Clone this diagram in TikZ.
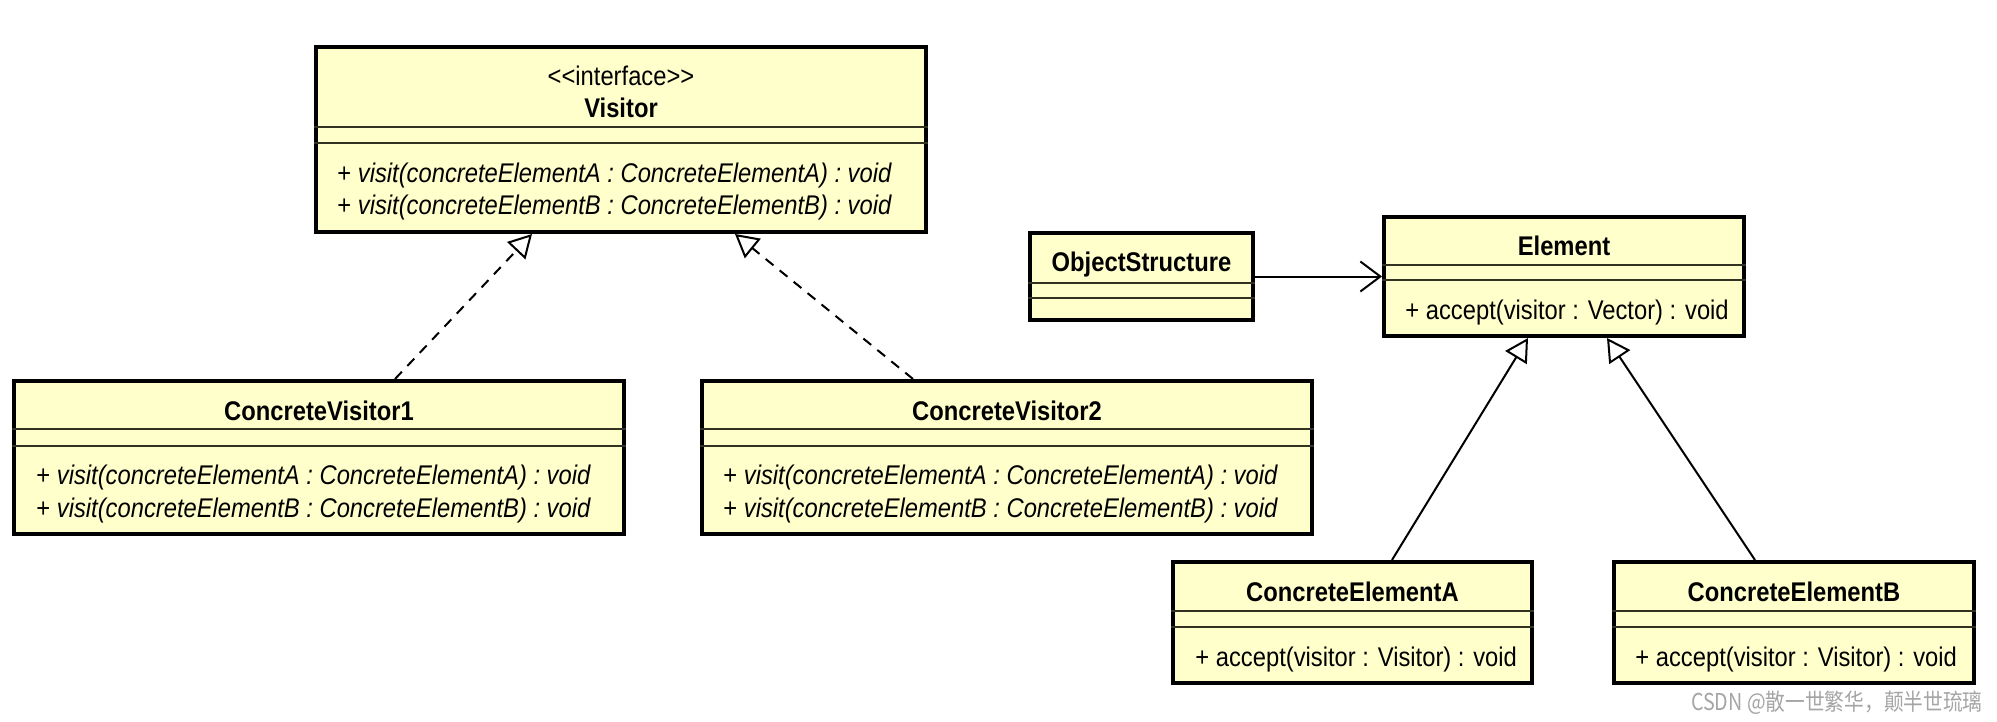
\documentclass[tikz,border=0pt]{standalone}
\usepackage{fontspec}
\setmainfont{Liberation Sans}[FakeStretch=0.88]
\newfontfamily\cjk{Noto Sans CJK SC}[FakeStretch=0.85]
\usetikzlibrary{arrows.meta}
\definecolor{clsfill}{RGB}{255,255,204}
\definecolor{sepcol}{RGB}{50,50,35}
\definecolor{wmgray}{RGB}{165,165,165}
\begin{document}
\begin{tikzpicture}[x=0.5pt,y=-0.5pt,
  cls/.style={draw=black,line width=2pt,fill=clsfill,inner sep=0pt,rectangle},
  txt/.style={inner sep=0pt,font=\fontsize{13.5}{16}\selectfont,text height=10pt,text depth=3.4pt},
  ttl/.style={txt,font=\fontsize{13.5}{16}\selectfont\bfseries},
  mth/.style={txt,anchor=west},
  sepline/.style={draw=sepcol,line width=1pt},
  real/.style={draw=black,line width=1pt,dash pattern=on 5pt off 4pt,-{Triangle[open,length=11.5pt,width=12.5pt]}},
  gen/.style={draw=black,line width=1pt,-{Triangle[open,length=11.5pt,width=12.5pt]}},
  assoc/.style={draw=black,line width=1pt,-{Straight Barb[length=10pt,width=15pt]}},
]
\useasboundingbox (0,0) rectangle (1997,722);

% boxes
\node[cls,minimum width=305pt,minimum height=92.5pt] (visitor) at (621,139.5) {};
\node[cls,minimum width=305pt,minimum height=76.5pt] (cv1) at (319,457.5) {};
\node[cls,minimum width=305pt,minimum height=76.5pt] (cv2) at (1007,457.5) {};
\node[cls,minimum width=111.5pt,minimum height=43.5pt] (os) at (1141.5,276.5) {};
\node[cls,minimum width=180pt,minimum height=59.5pt] (element) at (1564,276.5) {};
\node[cls,minimum width=179.5pt,minimum height=60.5pt] (cea) at (1352.5,622.5) {};
\node[cls,minimum width=180pt,minimum height=60.5pt] (ceb) at (1794,622.5) {};

% separators
\foreach \n/\a/\b in {visitor/127/143, cv1/429/446, cv2/429/446, os/283/298, element/265/280, cea/611/627, ceb/611/627}{
  \draw[sepline] (\n.west |- 0,\a) -- (\n.east |- 0,\a);
  \draw[sepline] (\n.west |- 0,\b) -- (\n.east |- 0,\b);
}

% texts
\node[txt] (vst) at (621,79) {{<}{<}interface{>}{>}};
\node[ttl] (vn) at (621,111) {Visitor};
\node[mth] (vm1) at (337,176) {+ \textit{visit(concreteElementA : ConcreteElementA) : void}};
\node[mth] (vm2) at (337,208) {+ \textit{visit(concreteElementB : ConcreteElementB) : void}};

\node[ttl] (c1n) at (319,414) {ConcreteVisitor1};
\node[mth] (c1m1) at (36,478) {+ \textit{visit(concreteElementA : ConcreteElementA) : void}};
\node[mth] (c1m2) at (36,511) {+ \textit{visit(concreteElementB : ConcreteElementB) : void}};

\node[ttl] (c2n) at (1007,414) {ConcreteVisitor2};
\node[mth] (c2m1) at (723,478) {+ \textit{visit(concreteElementA : ConcreteElementA) : void}};
\node[mth] (c2m2) at (723,511) {+ \textit{visit(concreteElementB : ConcreteElementB) : void}};

\node[ttl] (osn) at (1141.5,265) {ObjectStructure};

\node[ttl] (en) at (1564,249) {Element};
\node[mth] (em) at (1405,313) {+ accept(visitor : Vector) : void};

\node[ttl] (can) at (1352.5,595) {ConcreteElementA};
\node[mth] (cam) at (1195,660) {+ accept(visitor : Visitor) : void};

\node[ttl] (cbn) at (1794,595) {ConcreteElementB};
\node[mth] (cbm) at (1635,660) {+ accept(visitor : Visitor) : void};

% connectors
\draw[real] (395,0 |- cv1.north) -- (532,0 |- visitor.south);
\draw[real] (913,0 |- cv2.north) -- (735,0 |- visitor.south);
\draw[assoc] (os.east) -- (element.west);
\draw[gen] (1392,0 |- cea.north) -- (1528,0 |- element.south);
\draw[gen] (1755,0 |- ceb.north) -- (1607,0 |- element.south);

% watermark
\node[anchor=east,inner sep=0pt,text=wmgray,font=\cjk\fontsize{11.6}{13}\selectfont] (wm) at (1983,703) {CSDN @散一世繁华，颠半世琉璃};
\end{tikzpicture}
\end{document}
